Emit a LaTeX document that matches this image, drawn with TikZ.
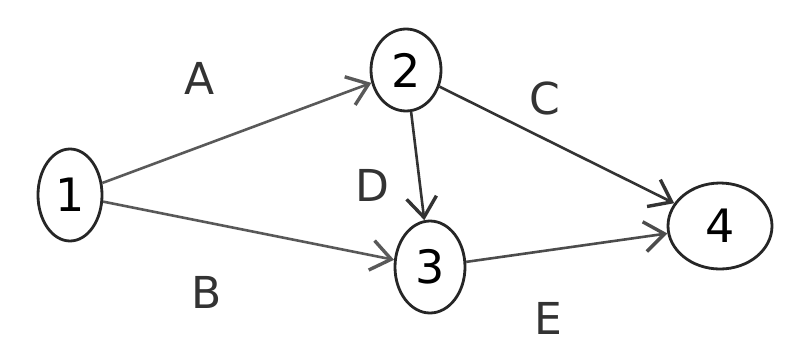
\documentclass[tikz,border=0pt]{standalone}
\usepackage{fontspec}
\setmainfont{DejaVu Sans}
\usetikzlibrary{shapes.geometric,arrows.meta}
\begin{document}
\begin{tikzpicture}[x=1pt,y=-1pt,
  ev/.style={draw=black!85, line width=2.8pt, ellipse, inner sep=0pt, font=\fontsize{46}{46}\selectfont},
  act/.style={draw=black!80, line width=2.6pt, -{Straight Barb[length=20pt,width=30pt,line width=3.4pt]}},
  lbl/.style={font=\fontsize{44}{44}\selectfont, text=black!80}]
\useasboundingbox (0,0) rectangle (808,354);
\fill[white] (0,0) rectangle (808,354);
\node[ev, minimum width=64pt, minimum height=92pt] (n1) at (70,195) {1};
\node[ev, minimum width=70pt, minimum height=82pt] (n2) at (406,70) {2};
\node[ev, minimum width=70pt, minimum height=92pt] (n3) at (430,267) {3};
\node[ev, minimum width=104pt, minimum height=86pt] (n4) at (720,226) {4};
\draw[act, draw=black!65] (n1) -- (n2);
\draw[act, draw=black!65] (n1) -- (n3);
\draw[act] (n2) -- (n4);
\draw[act] (n2) -- (n3);
\draw[act, draw=black!70] (n3) -- (n4);
\node[lbl] (la) at (200,78) {A};
\node[lbl] (lb) at (207,292) {B};
\node[lbl] (lc) at (545,98) {C};
\node[lbl] (ld) at (372,185) {D};
\node[lbl] (le) at (548,318) {E};
\end{tikzpicture}
\end{document}
